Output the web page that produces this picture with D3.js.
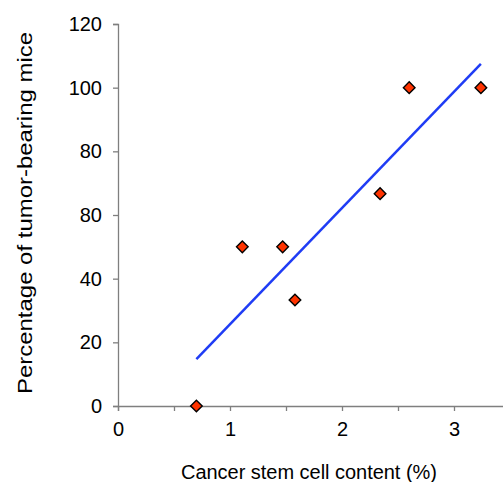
<html>
<head>
<meta charset="UTF-8">
<script src="https://d3js.org/d3.v7.min.js"></script>
<style>
  body { margin: 0; background: #fff; }
  text { font-family: "Liberation Sans", Arial, sans-serif; fill: #000; }
</style>
</head>
<body>
<div id="chart"></div>
<script>
// data
const stemContent = [0.70, 1.11, 1.47, 1.58, 2.34, 2.60, 3.24];
const tumorPct = [0, 50, 50, 33.3, 66.7, 100, 100];
const fitX = [0.70, 3.24];
const fitY = [14.7, 107.5];
const xTicks = [0, 1, 2, 3];
const xMinorTicks = [0.5, 1.5, 2.5, 3.5];
const yTicks = [0, 20, 40, 60, 80, 100, 120];
const yTickLabels = ["0", "20", "40", "80", "80", "100", "120"];

const svg = d3.select("#chart")
  .append("svg")
  .attr("width", 503)
  .attr("height", 482);

const x = d3.scaleLinear().domain([0, 3.5]).range([118, 510]);
const y = d3.scaleLinear().domain([0, 120]).range([406, 24]);

const axisColor = "#7f7f7f";

// x axis
svg.append("g")
  .attr("transform", "translate(0,406)")
  .call(d3.axisBottom(x).tickValues(xTicks).tickSize(5).tickPadding(11).tickFormat(d3.format("d")));
svg.append("g")
  .attr("transform", "translate(0,406)")
  .call(d3.axisBottom(x).tickValues(xMinorTicks).tickSize(5).tickFormat(""))
  .call(g => g.select(".domain").remove());

// y axis
svg.append("g")
  .attr("transform", "translate(118,0)")
  .call(d3.axisLeft(y).tickValues(yTicks).tickSize(5).tickPadding(11)
    .tickFormat((d, i) => yTickLabels[i]));

svg.selectAll(".domain").attr("stroke", axisColor).attr("stroke-width", 1.3);
svg.selectAll(".tick line").attr("stroke", axisColor).attr("stroke-width", 1.3);
svg.selectAll(".tick text")
  .attr("font-family", "Liberation Sans, Arial, sans-serif")
  .attr("font-size", 20)
  .attr("fill", "#000");

// fit line
const lineData = fitX.map((d, i) => [d, fitY[i]]);
svg.append("path")
  .datum(lineData)
  .attr("d", d3.line().x(d => x(d[0])).y(d => y(d[1])))
  .attr("fill", "none")
  .attr("stroke", "#1f3cf5")
  .attr("stroke-width", 2.5);

// points
svg.append("g")
  .selectAll("path")
  .data(stemContent)
  .enter()
  .append("path")
    .attr("d", d3.symbol().type(d3.symbolDiamond2).size(86))
    .attr("transform", (d, i) => `translate(${x(d)},${y(tumorPct[i])})`)
    .attr("fill", "#ff3300")
    .attr("stroke", "#000")
    .attr("stroke-width", 1.4);

// labels
svg.append("text")
  .attr("x", 309)
  .attr("y", 479)
  .attr("text-anchor", "middle")
  .attr("font-size", 20)
  .attr("textLength", 256)
  .text("Cancer stem cell content (%)");

svg.append("text")
  .attr("transform", "translate(32,213) rotate(-90)")
  .attr("text-anchor", "middle")
  .attr("font-size", 20)
  .attr("textLength", 362)
  .attr("lengthAdjust", "spacingAndGlyphs")
  .text("Percentage of tumor-bearing mice");
</script>
</body>
</html>
